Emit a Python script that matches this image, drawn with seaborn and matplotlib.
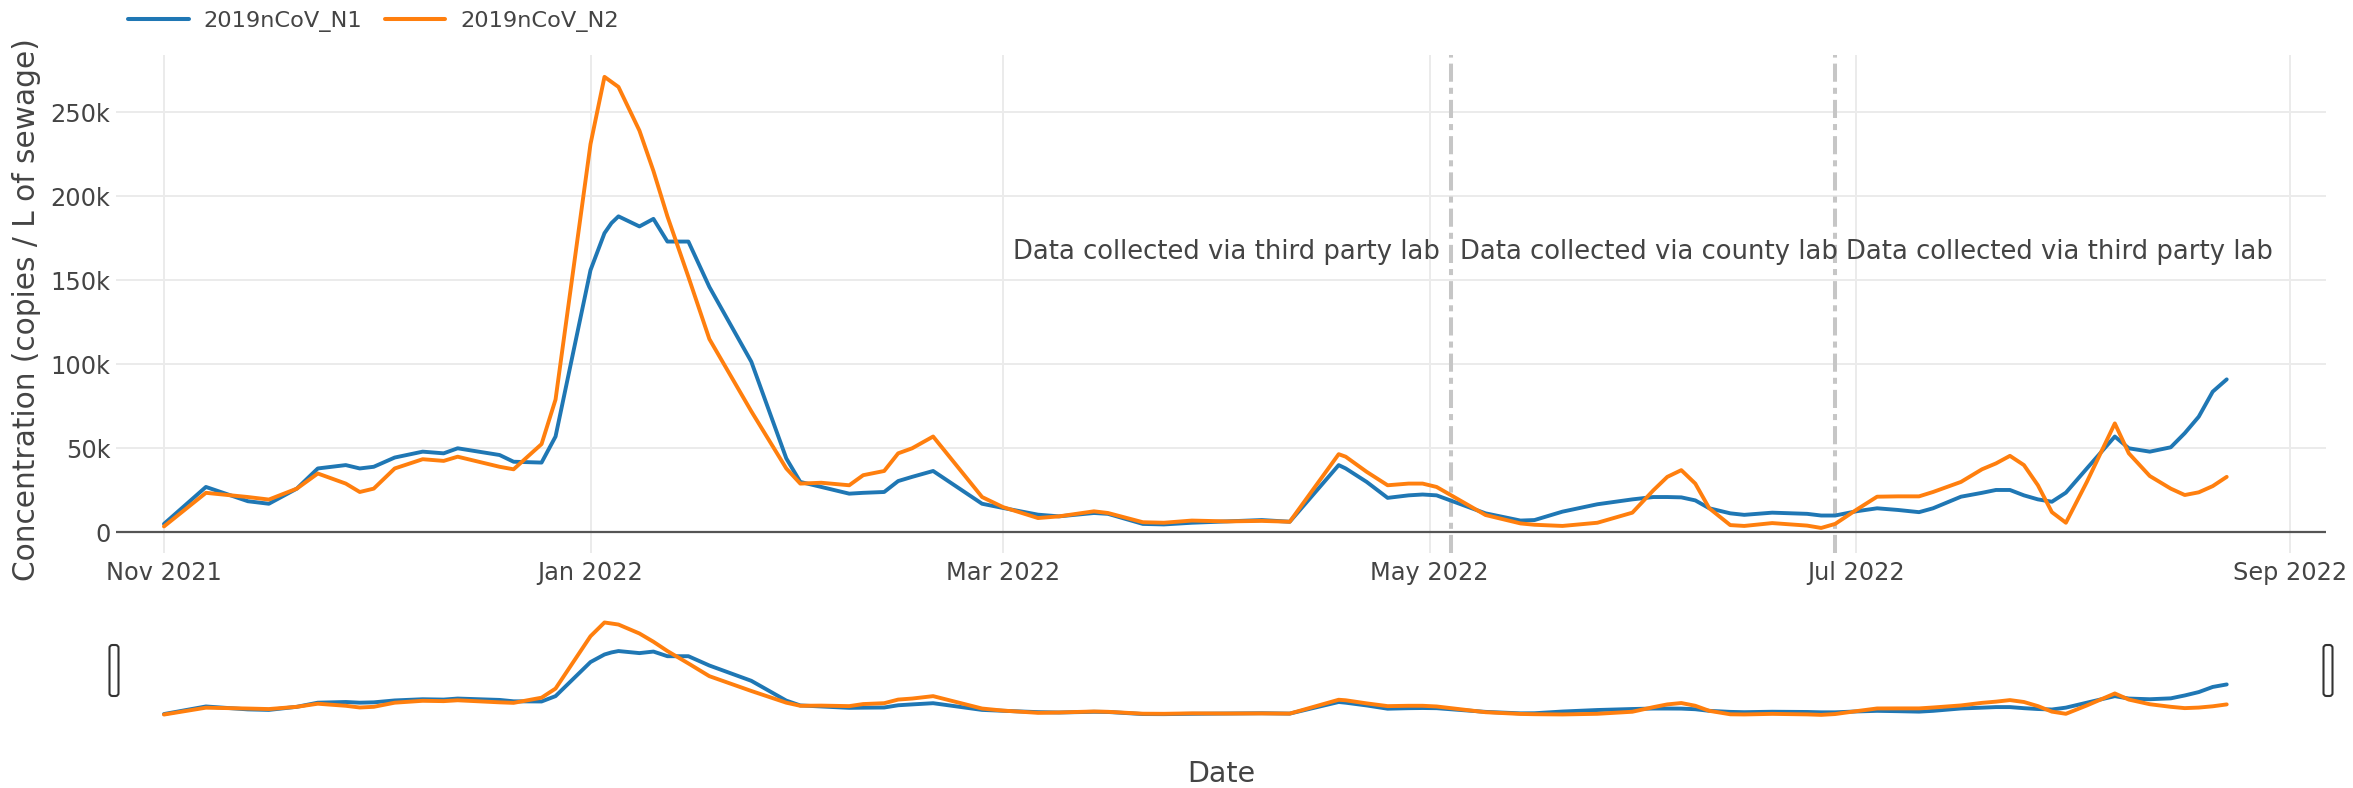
import pandas as pd
import numpy as np
import seaborn as sns
import matplotlib.pyplot as plt
from matplotlib.lines import Line2D
from matplotlib.patches import FancyBboxPatch
from matplotlib.transforms import IdentityTransform
from matplotlib.ticker import FuncFormatter

# Sample dates and concentrations (thousand copies / L)
dates = [
    "2021-11-01", "2021-11-07", "2021-11-13", "2021-11-16", "2021-11-20", "2021-11-23",
    "2021-11-27", "2021-11-29", "2021-12-01", "2021-12-04", "2021-12-08", "2021-12-11",
    "2021-12-13", "2021-12-19", "2021-12-21", "2021-12-25", "2021-12-27", "2022-01-01",
    "2022-01-03", "2022-01-04", "2022-01-05", "2022-01-08", "2022-01-10", "2022-01-12",
    "2022-01-15", "2022-01-18", "2022-01-24", "2022-01-29", "2022-01-31", "2022-02-03",
    "2022-02-07", "2022-02-09", "2022-02-12", "2022-02-14", "2022-02-16", "2022-02-19",
    "2022-02-26", "2022-03-01", "2022-03-06", "2022-03-09", "2022-03-14", "2022-03-16",
    "2022-03-21", "2022-03-24", "2022-03-28", "2022-04-02", "2022-04-07", "2022-04-11",
    "2022-04-18", "2022-04-19", "2022-04-22", "2022-04-25", "2022-04-28", "2022-04-30",
    "2022-05-02", "2022-05-09", "2022-05-14", "2022-05-16", "2022-05-20", "2022-05-25",
    "2022-05-30", "2022-06-02", "2022-06-04", "2022-06-06", "2022-06-08", "2022-06-10",
    "2022-06-13", "2022-06-15", "2022-06-19", "2022-06-24", "2022-06-26", "2022-06-28",
    "2022-07-01", "2022-07-04", "2022-07-07", "2022-07-10", "2022-07-12", "2022-07-16",
    "2022-07-19", "2022-07-21", "2022-07-23", "2022-07-25", "2022-07-27", "2022-07-29",
    "2022-07-31", "2022-08-03", "2022-08-07", "2022-08-09", "2022-08-12", "2022-08-15",
    "2022-08-17", "2022-08-19", "2022-08-21", "2022-08-23",
]
n1 = [
    5, 27, 18.5, 17, 26, 38, 40, 38, 39, 44.5, 48, 47,
    50, 46, 42, 41.5, 57, 156, 178, 184, 188, 182, 186.5, 173,
    173, 146, 101.5, 44, 30, 27, 23, 23.5, 24, 30.5, 33, 36.5,
    17, 14.5, 10.5, 9.5, 11.5, 11, 5, 4.7, 5.7, 6.5, 7.3, 6.3,
    40, 38, 30, 20.5, 22, 22.5, 22, 11.3, 7, 7.3, 12.3, 16.7,
    19.6, 21, 21, 20.8, 19, 14.3, 11.3, 10.4, 11.7, 11, 10, 10,
    12.5, 14.3, 13.3, 12, 14.3, 21.2, 23.5, 25.2, 25.2, 22, 19.6, 18.2,
    23.6, 38, 57, 50, 48, 50.6, 59, 68.8, 83.7, 91,
]
n2 = [
    3.5, 23.5, 21, 19.5, 26, 35, 29, 24, 26, 38, 43.5, 42.5,
    45, 39, 37.5, 52.5, 79, 231, 271, 268, 265, 239, 215, 188,
    152, 115, 72, 38, 29, 29.5, 28, 34, 36.5, 47, 50, 57,
    21, 15, 8.5, 9.5, 12.5, 11.5, 6, 5.7, 7, 6.5, 6.8, 6.3,
    46.5, 45, 36, 28, 29, 29, 27, 10.3, 5.3, 4.5, 3.8, 5.7,
    11.7, 25, 33, 37, 29, 14.3, 4.3, 3.8, 5.5, 4, 2.6, 5,
    13.3, 21.2, 21.4, 21.4, 24, 30, 37.5, 41, 45.5, 40, 28, 12,
    5.7, 30, 64.8, 47, 33.5, 26, 22.2, 23.8, 27.5, 33,
]
targets = ["2019nCoV_N1", "2019nCoV_N2"]
lab_changes = ["2022-05-04", "2022-06-28"]
lab_labels = [
    "Data collected via third party lab",
    "Data collected via county lab",
    "Data collected via third party lab",
]
x_ticks = ["2021-11-01", "2022-01-01", "2022-03-01", "2022-05-01", "2022-07-01", "2022-09-01"]
y_ticks = [0, 50000, 100000, 150000, 200000, 250000]

palette = {"2019nCoV_N1": "#1f77b4", "2019nCoV_N2": "#ff7f0e"}
TXT = "#444444"

df = pd.DataFrame({
    "Date": pd.to_datetime(dates),
    "2019nCoV_N1": np.array(n1) * 1000,
    "2019nCoV_N2": np.array(n2) * 1000,
})
long_df = df.melt(id_vars="Date", var_name="Target", value_name="Concentration")

sns.set_style("white")
plt.rcParams["font.family"] = ["DejaVu Sans"]

W, H = 2353, 788
fig = plt.figure(figsize=(W / 100, H / 100), dpi=100)
ax = fig.add_axes([116 / W, 1 - 553 / H, 2210 / W, 498 / H])
slider = fig.add_axes([116 / W, 1 - 720 / H, 2210 / W, 102 / H])

start = pd.Timestamp("2021-11-01")
xlim = (start + pd.Timedelta(days=-6.86), start + pd.Timedelta(days=309.2))
ylim = (-12300, 284000)

# main chart
sns.lineplot(data=long_df, x="Date", y="Concentration", hue="Target",
             hue_order=targets, palette=palette, linewidth=2.8, ax=ax, legend=False)
ax.set_xlim(xlim)
ax.set_ylim(ylim)
ax.set_xticks(pd.to_datetime(x_ticks))
ax.set_xticklabels([pd.Timestamp(t).strftime("%b %Y") for t in x_ticks])
ax.set_yticks(y_ticks)
ax.yaxis.set_major_formatter(FuncFormatter(lambda v, p: "0" if v == 0 else f"{int(v / 1000)}k"))
ax.grid(True, color="#ebebeb", linewidth=1.4)
ax.set_axisbelow(True)
ax.axhline(0, color="#555555", linewidth=1.6, zorder=1.5)
for s in ax.spines.values():
    s.set_visible(False)
ax.tick_params(axis="both", length=0, labelsize=17.3, colors=TXT)
ax.tick_params(axis="x", pad=6)
ax.tick_params(axis="y", pad=4)
ax.set_xlabel("")
ax.set_ylabel("")

# lab change markers and annotations
for d in lab_changes:
    ax.axvline(pd.Timestamp(d), color="#c6c6c6", linewidth=2.9,
               dashes=(4.5, 1.5, 1.5, 1.5), zorder=1.6)
ann_y = 167000
ann_fs = 18.6
ax.annotate(lab_labels[0], xy=(pd.Timestamp(lab_changes[0]), ann_y), xytext=(-8, 0),
            textcoords="offset points", ha="right", va="center", fontsize=ann_fs, color=TXT)
ax.annotate(lab_labels[1], xy=(pd.Timestamp(lab_changes[0]), ann_y), xytext=(7, 0),
            textcoords="offset points", ha="left", va="center", fontsize=ann_fs, color=TXT)
ax.annotate(lab_labels[2], xy=(pd.Timestamp(lab_changes[1]), ann_y), xytext=(8, 0),
            textcoords="offset points", ha="left", va="center", fontsize=ann_fs, color=TXT)

# range slider preview
sns.lineplot(data=long_df, x="Date", y="Concentration", hue="Target",
             hue_order=targets, palette=palette, linewidth=2.8, ax=slider, legend=False)
slider.set_xlim(xlim)
slider.set_ylim(ylim)
slider.set_axis_off()

for cx in (114, 2328):
    handle = FancyBboxPatch((cx - 4.5, H - 696), 9, 51,
                            boxstyle="round,pad=0,rounding_size=3",
                            facecolor="white", edgecolor="#333333", linewidth=1.5,
                            transform=IdentityTransform())
    fig.add_artist(handle)

# axis titles
fig.text(27 / W, 1 - 310 / H, "Concentration (copies / L of sewage)", rotation=90,
         ha="center", va="center", fontsize=21.3, color=TXT)
fig.text(1221 / W, 1 - 774 / H, "Date", ha="center", va="center", fontsize=20.5, color=TXT)

# legend
handles = [Line2D([], [], color=palette[t], linewidth=2.9) for t in targets]
fig.legend(handles, targets, loc="center left", bbox_to_anchor=(128 / W, 1 - 21 / H),
           ncol=2, frameon=False, fontsize=16.2, labelcolor=TXT, handlelength=2.7,
           handletextpad=0.65, columnspacing=1.0, borderpad=0, borderaxespad=0)

fig.savefig("out.png", dpi=100)
plt.close(fig)
